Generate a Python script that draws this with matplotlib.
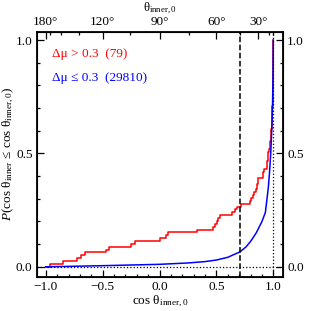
import numpy as np
import matplotlib
matplotlib.use('Agg')
import matplotlib.pyplot as plt

plt.rcParams['font.family'] = ['Liberation Serif', 'DejaVu Serif']
plt.rcParams['mathtext.fontset'] = 'custom'
plt.rcParams['mathtext.rm'] = 'Liberation Serif'
plt.rcParams['mathtext.it'] = 'Liberation Serif:italic'

# red sample: cos theta_inner,0 for Delta mu > 0.3 (79 values)
red_cos = [-0.962, -0.851, -0.725, -0.690, -0.655, -0.474, -0.448, -0.253, -0.213,
           0.004, 0.054, 0.072, 0.327, 0.473, 0.488, 0.503, 0.517, 0.532,
           0.633, 0.663, 0.681, 0.712, 0.791, 0.808, 0.822, 0.830, 0.844, 0.852,
           0.857, 0.861, 0.866, 0.905, 0.912, 0.918, 0.942,
           0.945, 0.948, 0.951, 0.954, 0.956, 0.962, 0.968,
           0.972, 0.974, 0.976, 0.978, 0.980, 0.982, 0.984, 0.986,
           0.987, 0.988, 0.989, 0.990, 0.991, 0.992, 0.993, 0.995,
           0.9955, 0.996, 0.9963, 0.9966, 0.997, 0.9973, 0.9976, 0.998, 0.9982,
           0.9984, 0.9986, 0.9988, 0.999, 0.9992, 0.9993, 0.9994, 0.9995, 0.9996,
           0.9997, 0.9998, 0.9999]

# blue cumulative curve (Delta mu <= 0.3)
blue_cos = [-1.0, -0.8, -0.5, -0.25, 0.0, 0.25, 0.4, 0.5, 0.6, 0.707, 0.76, 0.8,
            0.85, 0.9, 0.93, 0.956, 0.967, 0.977, 0.984, 0.989, 0.993, 0.996, 0.998, 1.0]
blue_P = [0.0, 0.002, 0.005, 0.008, 0.011, 0.017, 0.023, 0.030, 0.042, 0.066, 0.088, 0.112,
          0.150, 0.200, 0.240, 0.350, 0.420, 0.500, 0.580, 0.645, 0.720, 0.800, 0.880, 1.0]

n_red = 79
n_blue = 29810
cos_cut = 0.7071

top_deg = [180, 120, 90, 60, 30]
top_minor_deg = [165, 150, 135, 105, 75, 45, 15, 0]

fig = plt.figure(figsize=(3.11, 3.11), dpi=100)
ax = fig.add_axes([0.118, 0.110, 0.792, 0.788])

# empirical CDF of red sample
xs = np.sort(np.array(red_cos))
ps = np.arange(1, len(xs) + 1) / float(len(xs))
xr = np.concatenate([[-1.0], xs, [1.0]])
pr = np.concatenate([[0.0], ps, [1.0]])
ax.plot(xr, pr, color='red', lw=1.1, drawstyle='steps-post')
ax.plot(blue_cos, blue_P, color='blue', lw=1.1)

ax.axvline(cos_cut, color='k', ls='--', lw=1.1)
ax.axvline(1.0, color='k', ls=':', lw=0.9)
ax.axhline(0.0, color='k', ls=':', lw=0.9)

ax.set_xlim(-1.08, 1.085)
ax.set_ylim(-0.044, 1.037)
ax.set_xticks([-1.0, -0.5, 0.0, 0.5, 1.0])
ax.set_xticks(np.arange(-1.0, 1.01, 0.1), minor=True)
ax.set_yticks([0.0, 0.5, 1.0])
ax.set_yticks(np.arange(0.0, 1.01, 0.1), minor=True)
ax.set_xticklabels(['\u22121.0', '\u22120.5', '0.0', '0.5', '1.0'])
ax.tick_params(which='both', direction='in', right=True, labelright=True, labelsize=9.5, width=0.9)
ax.tick_params(which='major', length=5, pad=3)
ax.tick_params(which='minor', length=2.5)
for s in ax.spines.values():
    s.set_linewidth(1.3)

ax.set_xlabel(r'cos θ$_{\rm inner,0}$', fontsize=9.5, labelpad=1)
ax.set_ylabel(r'$P$(cos θ$_{\rm inner}$ ≤ cos θ$_{\rm inner,0}$)', fontsize=9.5, labelpad=0)

ax2 = ax.twiny()
ax2.set_xlim(ax.get_xlim())
ax2.set_xticks(np.cos(np.radians(top_deg)))
ax2.set_xticklabels(['%d\u00b0' % d for d in top_deg])
ax2.set_xticks(np.cos(np.radians(top_minor_deg)), minor=True)
ax2.tick_params(which='both', direction='in', labelsize=9.5, width=0.9)
ax2.tick_params(which='major', length=5, pad=2.5)
ax2.tick_params(which='minor', length=2.5)
ax2.set_xlabel(r'θ$_{\rm inner,0}$', fontsize=9, labelpad=3.5)

ax.text(0.062, 0.91, 'Δμ > 0.3  (%d)' % n_red, color='red', fontsize=9.5,
        transform=ax.transAxes, va='center')
ax.text(0.062, 0.813, 'Δμ ≤ 0.3  (%d)' % n_blue, color='blue', fontsize=9.5,
        transform=ax.transAxes, va='center')

fig.savefig('out.png', dpi=100)
